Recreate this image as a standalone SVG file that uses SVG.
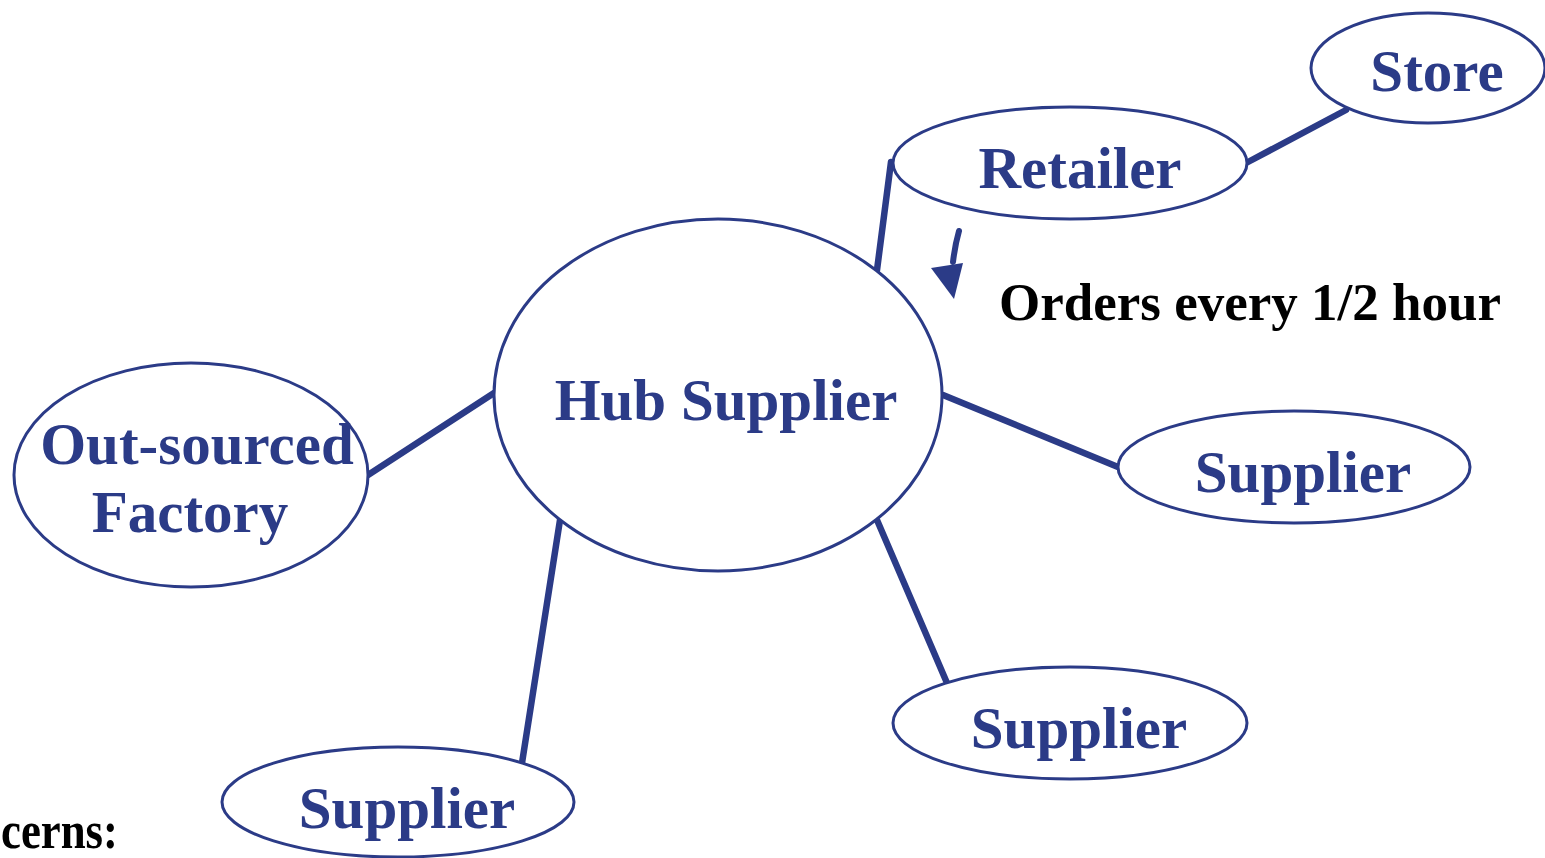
<svg xmlns="http://www.w3.org/2000/svg" width="1545" height="858" viewBox="0 0 1545 858">
<style>
.node ellipse{fill:#ffffff;stroke:#2b3b87;stroke-width:3}
.lbl{font-family:"Liberation Serif","Times New Roman",serif;font-weight:bold;font-size:59px;fill:#2b3b87;text-anchor:middle}
.blk{font-family:"Liberation Serif","Times New Roman",serif;font-weight:bold;font-size:53px;fill:#000000}
.conn line{stroke:#2b3b87;stroke-width:6.5;stroke-linecap:round}
</style>
<rect width="1545" height="858" fill="#ffffff"/>
<g id="connectors" class="conn">
<line x1="891" y1="162" x2="877" y2="270"/>
<line x1="1248" y1="162" x2="1346" y2="110"/>
<line x1="494" y1="393" x2="368" y2="475"/>
<line x1="943" y1="395" x2="1118" y2="467"/>
<line x1="877" y1="520" x2="947" y2="683"/>
<line x1="560" y1="520" x2="522" y2="763"/>
</g>
<g id="store" class="node"><ellipse cx="1428" cy="68" rx="117" ry="55"/><text class="lbl" x="1437" y="91">Store</text></g>
<g id="retailer" class="node"><ellipse cx="1070" cy="163" rx="177" ry="56"/><text class="lbl" x="1080" y="188">Retailer</text></g>
<g id="hub" class="node"><ellipse cx="718" cy="395" rx="224" ry="176"/><text class="lbl" x="726" y="420">Hub Supplier</text></g>
<g id="factory" class="node"><ellipse cx="191" cy="475" rx="177" ry="112"/><text class="lbl" x="197" y="464">Out-sourced</text><text class="lbl" x="190" y="532">Factory</text></g>
<g id="supplier-right" class="node"><ellipse cx="1294" cy="467" rx="176" ry="56"/><text class="lbl" x="1303" y="492">Supplier</text></g>
<g id="supplier-mid" class="node"><ellipse cx="1070" cy="723" rx="177" ry="56"/><text class="lbl" x="1079" y="748">Supplier</text></g>
<g id="supplier-left" class="node"><ellipse cx="398" cy="802" rx="176" ry="55"/><text class="lbl" x="407" y="828">Supplier</text></g>
<g id="orders-arrow">
<path d="M959,231 Q955,245 953,262" fill="none" stroke="#2b3b87" stroke-width="6" stroke-linecap="round"/>
<polygon points="931,268 963,263 954,299" fill="#2b3b87"/>
</g>
<text class="blk" x="999" y="320">Orders every 1/2 hour</text>
<text class="blk" x="1" y="848" textLength="117" lengthAdjust="spacingAndGlyphs">cerns:</text>
</svg>
